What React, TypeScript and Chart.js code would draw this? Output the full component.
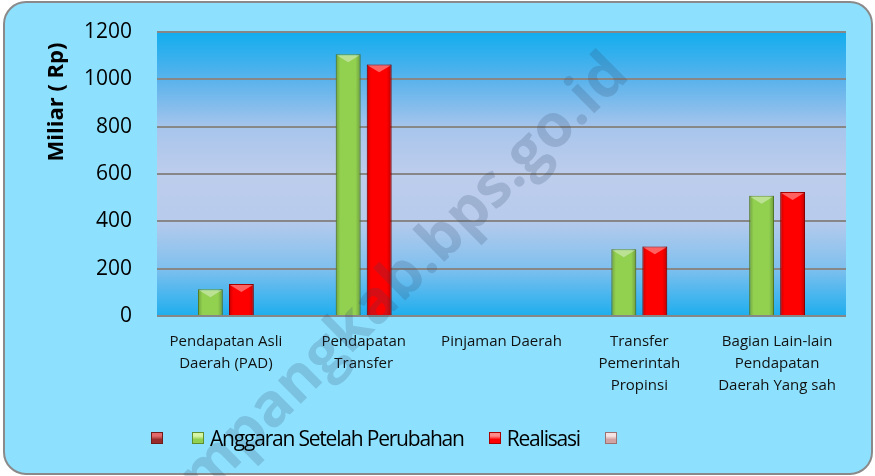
import React, { useEffect, useRef } from "react";
import { Chart, registerables } from "chart.js";

Chart.register(...registerables);

const categories: (string | string[])[] = [
  ["Pendapatan Asli", "Daerah (PAD)"],
  ["Pendapatan", "Transfer"],
  "Pinjaman Daerah",
  ["Transfer", "Pemerintah", "Propinsi"],
  ["Bagian Lain-lain", "Pendapatan", "Daerah Yang sah"],
];
const seriesBlank1: (number | null)[] = [null, null, null, null, null];
const anggaranSetelahPerubahan: number[] = [113, 1106, 0, 282, 508];
const realisasi: number[] = [135, 1063, 0, 294, 524];
const seriesBlank2: (number | null)[] = [null, null, null, null, null];
const seriesLabels = ["", "Anggaran Setelah Perubahan", "Realisasi", ""];
const yTicks = [0, 200, 400, 600, 800, 1000, 1200];
const yTitle = "Miliar ( Rp)";
const watermark = "sampangkab.bps.go.id";

const FONT = "'Open Sans', 'Noto Sans', sans-serif";

const legendStyles = [
  { base: "#9a2b2b", light: "#e26a6a", border: "#6e1c1c" },
  { base: "#92d050", light: "#d6f5a6", border: "#5f8f2f" },
  { base: "#ff0000", light: "#ff8a8a", border: "#a80000" },
  { base: "#d2a3a3", light: "#f6e4e4", border: "#9c7272" },
];

const backgroundPlugin = {
  id: "bgPlugin",
  beforeDraw(chart: any) {
    const { ctx, chartArea } = chart;
    ctx.save();
    const x0 = 4, y0 = 2, w = 868, h = 472, r = 22;
    ctx.beginPath();
    ctx.moveTo(x0 + r, y0);
    ctx.lineTo(x0 + w - r, y0);
    ctx.arcTo(x0 + w, y0, x0 + w, y0 + r, r);
    ctx.lineTo(x0 + w, y0 + h - r);
    ctx.arcTo(x0 + w, y0 + h, x0 + w - r, y0 + h, r);
    ctx.lineTo(x0 + r, y0 + h);
    ctx.arcTo(x0, y0 + h, x0, y0 + h - r, r);
    ctx.lineTo(x0, y0 + r);
    ctx.arcTo(x0, y0, x0 + r, y0, r);
    ctx.closePath();
    ctx.fillStyle = "#8ee1fe";
    ctx.fill();
    ctx.lineWidth = 2;
    ctx.strokeStyle = "#8a8a8a";
    ctx.stroke();
    const { left, right, top, bottom } = chartArea;
    const g = ctx.createLinearGradient(0, top, 0, bottom);
    g.addColorStop(0, "#12adef");
    g.addColorStop(0.17, "#5ab3ec");
    g.addColorStop(0.34, "#a8c5ec");
    g.addColorStop(0.5, "#bdcdec");
    g.addColorStop(0.66, "#b8cbec");
    g.addColorStop(0.83, "#80c0ee");
    g.addColorStop(1, "#1eaeee");
    ctx.fillStyle = g;
    ctx.fillRect(left, top, right - left, bottom - top);
    ctx.restore();
  },
};

const barShadePlugin = {
  id: "barShade",
  afterDatasetsDraw(chart: any) {
    const { ctx } = chart;
    ctx.save();
    chart.data.datasets.forEach((ds: any, di: number) => {
      const meta = chart.getDatasetMeta(di);
      meta.data.forEach((el: any) => {
        const { x, y, base, width } = el.getProps(["x", "y", "base", "width"], true);
        if (y == null || isNaN(y) || Math.abs(base - y) < 1) return;
        const l = x - width / 2;
        const rgt = x + width / 2;
        const g = ctx.createLinearGradient(l, 0, rgt, 0);
        g.addColorStop(0, "rgba(0,0,0,0.22)");
        g.addColorStop(0.18, "rgba(0,0,0,0)");
        g.addColorStop(0.8, "rgba(0,0,0,0)");
        g.addColorStop(1, "rgba(0,0,0,0.25)");
        ctx.fillStyle = g;
        ctx.fillRect(l, y, width, base - y);
        const bev = Math.min(width * 0.32, (base - y) / 2);
        ctx.beginPath();
        ctx.moveTo(l + 1, y + 1);
        ctx.lineTo(rgt - 1, y + 1);
        ctx.lineTo(x, y + bev);
        ctx.closePath();
        ctx.fillStyle = "rgba(255,255,255,0.38)";
        ctx.fill();
      });
    });
    ctx.restore();
  },
};

const overlayPlugin = {
  id: "overlay",
  afterDraw(chart: any) {
    const { ctx } = chart;
    ctx.save();
    ctx.translate(57, 102);
    ctx.rotate(-Math.PI / 2);
    ctx.font = `bold 22px ${FONT}`;
    ctx.fillStyle = "#000";
    ctx.textAlign = "center";
    ctx.textBaseline = "middle";
    ctx.fillText(yTitle, 0, 0);
    ctx.restore();
    ctx.save();
    ctx.translate(631, 77);
    ctx.rotate(-0.78);
    ctx.font = `bold 60px ${FONT}`;
    ctx.fillStyle = "rgba(45,70,105,0.2)";
    ctx.textAlign = "right";
    ctx.textBaseline = "alphabetic";
    ctx.fillText(watermark, 0, 0);
    ctx.restore();
  },
};

export default function App() {
  const ref = useRef<HTMLCanvasElement | null>(null);
  useEffect(() => {
    if (!ref.current) return;
    const colors = ["#9a2b2b", "#92d050", "#ff0000", "#d2a3a3"];
    const borders = ["#6e1c1c", "#6b9a2e", "#b00000", "#9c7272"];
    const datas = [seriesBlank1, anggaranSetelahPerubahan, realisasi, seriesBlank2];
    const chart = new Chart(ref.current, {
      type: "bar",
      data: {
        labels: categories,
        datasets: datas.map((d, i) => ({
          label: seriesLabels[i],
          data: d,
          backgroundColor: colors[i],
          borderColor: borders[i],
          borderWidth: 1,
          categoryPercentage: 0.9,
          barPercentage: 0.8,
        })),
      },
      options: {
        animation: false,
        responsive: false,
        layout: { padding: { left: 44, right: 29, top: 32, bottom: 60 } },
        plugins: {
          legend: { display: false },
          tooltip: { enabled: false },
        },
        scales: {
          x: {
            grid: { display: false },
            border: { display: false },
            ticks: {
              color: "#111",
              font: { family: FONT, size: 15, lineHeight: 1.47 },
              padding: 7,
              maxRotation: 0,
              autoSkip: false,
            },
            afterFit(scale: any) {
              scale.height = 100;
            },
          },
          y: {
            min: 0,
            max: 1200,
            afterBuildTicks(scale: any) {
              scale.ticks = yTicks.map((v) => ({ value: v }));
            },
            grid: { color: "#878787", lineWidth: 2, drawTicks: false },
            border: { display: false },
            ticks: {
              color: "#000",
              font: { family: FONT, size: 21 },
              padding: 25,
              callback: (v: any) => String(v),
            },
            afterFit(scale: any) {
              scale.width = 113;
              scale.paddingTop = 0;
              scale.paddingBottom = 0;
            },
          },
        },
      },
      plugins: [backgroundPlugin, barShadePlugin, overlayPlugin],
    });
    return () => chart.destroy();
  }, []);

  const box = (i: number) => {
    const s = legendStyles[i];
    return (
      <span
        style={{
          display: "inline-block",
          width: 12,
          height: 12,
          boxSizing: "border-box",
          border: `1px solid ${s.border}`,
          background: `linear-gradient(to bottom, ${s.light} 0%, ${s.light} 30%, ${s.base} 65%)`,
          flex: "0 0 auto",
        }}
      />
    );
  };

  return (
    <div style={{ position: "fixed", left: 0, top: 0, width: 875, height: 476 }}>
      <canvas ref={ref} width={875} height={476} style={{ display: "block" }} />
      <div
        style={{
          position: "absolute",
          left: 151,
          top: 424,
          height: 28,
          display: "flex",
          alignItems: "center",
          fontFamily: FONT,
          fontSize: 21,
          letterSpacing: "-1.2px",
          color: "#000",
          whiteSpace: "nowrap",
        }}
      >
        {box(0)}
        <span style={{ width: 29 }} />
        {box(1)}
        <span style={{ marginLeft: 6, marginRight: 25 }}>{seriesLabels[1]}</span>
        {box(2)}
        <span style={{ marginLeft: 6, marginRight: 25 }}>{seriesLabels[2]}</span>
        {box(3)}
      </div>
    </div>
  );
}
